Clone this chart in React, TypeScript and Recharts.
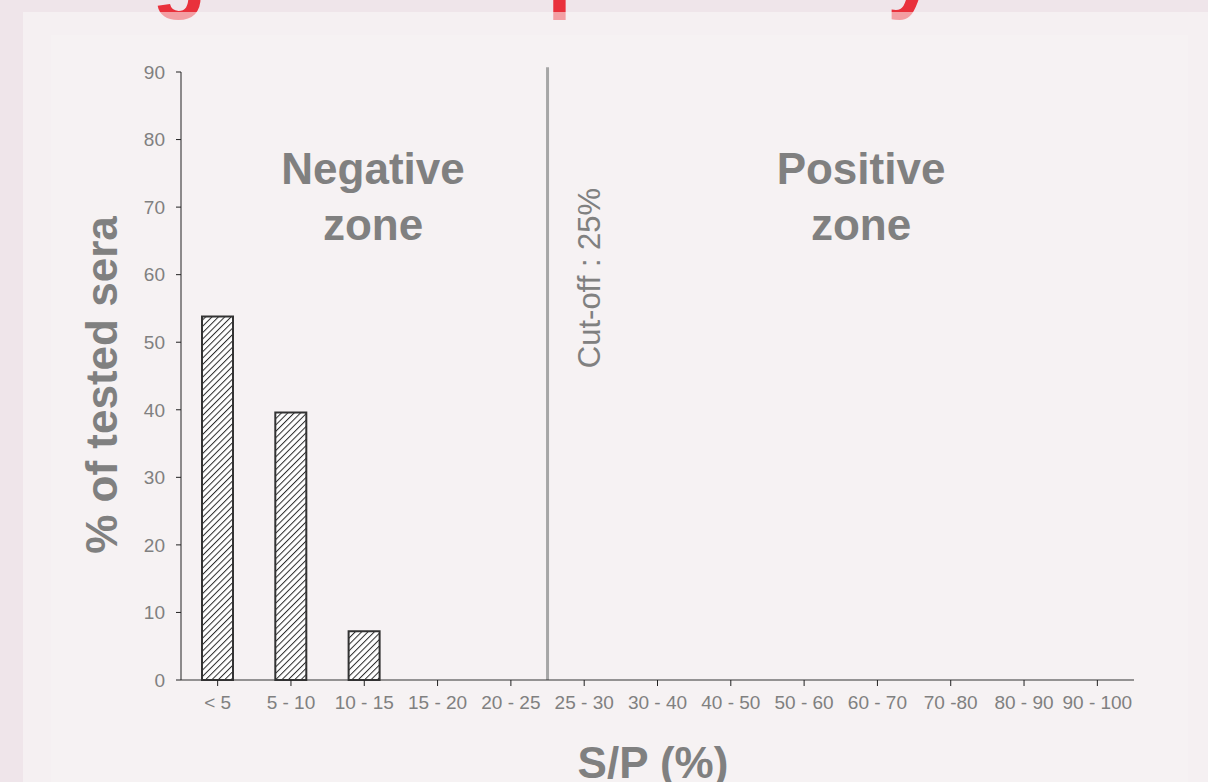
import React from 'react';
import { BarChart, Bar, XAxis, YAxis, ReferenceLine } from 'recharts';

const ranges = ['< 5', '5 - 10', '10 - 15', '15 - 20', '20 - 25', '25 - 30', '30 - 40', '40 - 50', '50 - 60', '60 - 70', '70 -80', '80 - 90', '90 - 100'];
const percentSera = [53.8, 39.6, 7.2, 0, 0, 0, 0, 0, 0, 0, 0, 0, 0];
const yTicks = [0, 10, 20, 30, 40, 50, 60, 70, 80, 90];
const cutoffRange = '25 - 30';

const data = ranges.map((r, i) => ({ range: r, pct: percentSera[i] }));

const grey = '#808080';
const font = '"Liberation Sans", Arial, sans-serif';
const title = 'Diagnostic specificity';

export default function App() {
  return (
    <div style={{ position: 'fixed', left: 0, top: 0, width: 1208, height: 782, overflow: 'hidden', background: '#efe5ea', fontFamily: font }}>
      <svg width={0} height={0} style={{ position: 'absolute' }}>
        <defs>
          <pattern id="hatch" width="4.5" height="4.5" patternUnits="userSpaceOnUse" patternTransform="rotate(45)">
            <rect width="4.5" height="4.5" fill="#fff" />
            <line x1="0" y1="0" x2="0" y2="4.5" stroke="#2a2a2a" strokeWidth="2" />
          </pattern>
          <clipPath id="above">
            <rect x="0" y="-200" width="1208" height="212" />
          </clipPath>
          <clipPath id="below">
            <rect x="0" y="12" width="1208" height="100" />
          </clipPath>
        </defs>
      </svg>

      <div style={{ position: 'absolute', left: 23, top: 12, right: 0, bottom: 0, background: '#f5f0f2' }} />
      <div style={{ position: 'absolute', left: 51, top: 35, width: 1137, bottom: 0, background: '#f6f2f3' }} />

      {/* slide title, mostly outside the picture */}
      <svg width={1208} height={60} style={{ position: 'absolute', left: 0, top: 0 }}>
        <text x={12} y={-1} fontSize={100} fontWeight="bold" fill="#e9313c" fontFamily={font} textLength={925} lengthAdjust="spacingAndGlyphs" clipPath="url(#above)">{title}</text>
        <text x={12} y={-1} fontSize={100} fontWeight="bold" fill="#f39ea3" fontFamily={font} textLength={925} lengthAdjust="spacingAndGlyphs" clipPath="url(#below)">{title}</text>
      </svg>

      <div style={{ position: 'absolute', left: 0, top: 0 }}>
        <BarChart width={1208} height={782} data={data} margin={{ top: 72, right: 74, left: 0, bottom: 0 }}>
          <XAxis
            dataKey="range"
            interval={0}
            height={102}
            tickSize={6}
            tickMargin={10}
            tick={{ fill: grey, fontSize: 19, fontFamily: font }}
            axisLine={{ stroke: '#333' }}
            tickLine={{ stroke: '#222' }}
          />
          <YAxis
            width={181}
            domain={[0, 90]}
            ticks={yTicks}
            tickSize={5}
            tickMargin={11}
            tick={{ fill: grey, fontSize: 19, fontFamily: font }}
            axisLine={{ stroke: '#222' }}
            tickLine={{ stroke: '#222' }}
          />
          <Bar dataKey="pct" barSize={31} fill="url(#hatch)" stroke="#333" strokeWidth={2} isAnimationActive={false} />
          <ReferenceLine
            segment={[{ x: cutoffRange, y: 0 }, { x: cutoffRange, y: 90.7 }]}
            position="start"
            ifOverflow="visible"
            stroke="#a6a6a6"
            strokeWidth={3}
          />
        </BarChart>
      </div>

      <svg width={1208} height={782} style={{ position: 'absolute', left: 0, top: 0, pointerEvents: 'none' }} fontFamily={font}>
        <text x={373} y={184} textAnchor="middle" fontSize={44} fontWeight="bold" fill={grey}>Negative</text>
        <text x={373} y={240} textAnchor="middle" fontSize={44} fontWeight="bold" fill={grey}>zone</text>
        <text x={861} y={184} textAnchor="middle" fontSize={44} fontWeight="bold" fill={grey}>Positive</text>
        <text x={861} y={240} textAnchor="middle" fontSize={44} fontWeight="bold" fill={grey}>zone</text>
        <text x={600} y={278} textAnchor="middle" fontSize={31} fill={grey} transform="rotate(-90 600 278)">Cut-off : 25%</text>
        <text x={117} y={385} textAnchor="middle" fontSize={44} fontWeight="bold" fill={grey} transform="rotate(-90 117 385)">% of tested sera</text>
        <text x={653} y={778} textAnchor="middle" fontSize={44} fontWeight="bold" fill={grey}>S/P (%)</text>
      </svg>
    </div>
  );
}
